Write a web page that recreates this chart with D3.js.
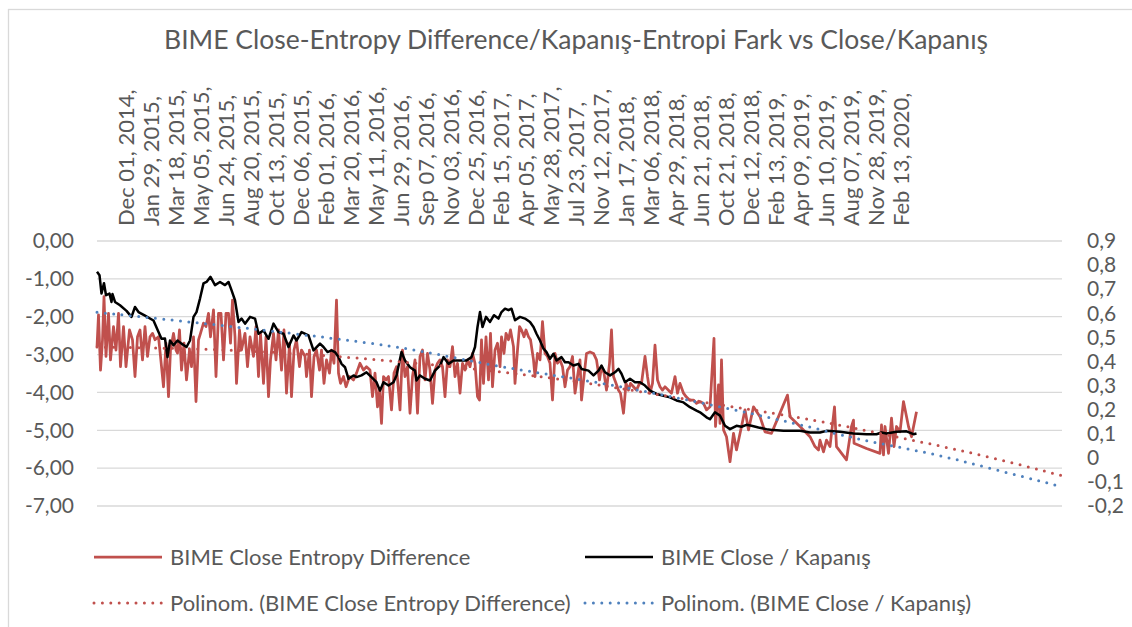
<!DOCTYPE html>
<html>
<head>
<meta charset="utf-8">
<script src="https://cdn.jsdelivr.net/npm/d3@7"></script>
<style>
  body { margin: 0; background: #fff; }
  svg text { font-family: Lato, "Noto Sans", sans-serif; fill: #595959; }
</style>
</head>
<body>
<svg id="chart" width="1132" height="627"></svg>
<script>
// category labels, shown every 50th point
var dateLabels = ["Dec 01, 2014,", "Jan 29, 2015,", "Mar 18, 2015,", "May 05, 2015,", "Jun 24, 2015,",
  "Aug 20, 2015,", "Oct 13, 2015,", "Dec 06, 2015,", "Feb 01, 2016,", "Mar 20, 2016,", "May 11, 2016,",
  "Jun 29, 2016,", "Sep 07, 2016,", "Nov 03, 2016,", "Dec 25, 2016,", "Feb 15, 2017,", "Apr 05, 2017,",
  "May 28, 2017,", "Jul 23, 2017,", "Nov 12, 2017,", "Jan 17, 2018,", "Mar 06, 2018,", "Apr 29, 2018,",
  "Jun 21, 2018,", "Oct 21, 2018,", "Dec 12, 2018,", "Feb 13, 2019,", "Apr 09, 2019,", "Jun 10, 2019,",
  "Aug 07, 2019,", "Nov 28, 2019,", "Feb 13, 2020,"];
var firstLabel = 57, labelStep = 50, lastCategory = 1930;

var leftTicks = [0, -1, -2, -3, -4, -5, -6, -7];
var rightTicks = [0.9, 0.8, 0.7, 0.6, 0.5, 0.4, 0.3, 0.2, 0.1, 0, -0.1, -0.2];

// BIME Close Entropy Difference (left axis)
var entropyIndex = [0, 3, 7, 11, 14, 18, 23, 27, 33, 38, 43, 47, 53, 58, 65, 71, 76, 81, 86, 91, 96, 101, 106, 111,
  116, 123, 127, 133, 138, 143, 147, 153, 158, 161, 165, 169, 174, 179, 185, 189, 193, 198, 203, 207, 213, 218,
  223, 227, 233, 238, 243, 248, 253, 258, 263, 267, 271, 276, 279, 285, 289, 296, 301, 306, 313, 318, 323, 327,
  333, 338, 343, 347, 353, 358, 363, 369, 374, 379, 385, 389, 394, 399, 405, 409, 416, 419, 425, 429, 434, 439,
  445, 449, 454, 459, 465, 469, 474, 479, 483, 487, 493, 498, 505, 513, 519, 526, 533, 539, 546, 551, 556, 561,
  565, 569, 573, 578, 583, 589, 594, 599, 606, 611, 616, 621, 626, 631, 636, 641, 646, 651, 656, 661, 666, 671,
  676, 681, 686, 691, 696, 701, 706, 711, 716, 721, 726, 731, 736, 741, 746, 751, 756, 761, 765, 769, 773, 778,
  783, 787, 791, 796, 801, 806, 809, 814, 818, 823, 827, 833, 836, 841, 845, 849, 854, 858, 863, 867, 873, 876,
  881, 886, 891, 896, 901, 906, 911, 916, 921, 926, 931, 936, 941, 946, 951, 956, 961, 966, 969, 974, 979, 986,
  993, 999, 1005, 1009, 1014, 1019, 1025, 1029, 1033, 1038, 1043, 1047, 1053, 1058, 1063, 1067, 1073, 1079, 1085,
  1089, 1096, 1101, 1106, 1111, 1116, 1121, 1126, 1131, 1136, 1143, 1149, 1156, 1161, 1166, 1173, 1178, 1185,
  1193, 1199, 1206, 1213, 1219, 1226, 1234, 1237, 1243, 1246, 1249, 1253, 1259, 1266, 1273, 1279, 1289, 1296,
  1303, 1313, 1326, 1336, 1349, 1363, 1381, 1386, 1406, 1426, 1436, 1443, 1446, 1453, 1459, 1466, 1475, 1479,
  1499, 1509, 1513, 1514, 1539, 1566, 1569, 1573, 1576, 1583, 1589, 1594, 1599, 1606, 1613, 1623, 1629, 1639];
var entropyValues = [-2.79, -1.95, -3.41, -2.61, -1.47, -3.05, -1.91, -3.14, -2.26, -2.88, -1.91, -3.32, -2.26,
  -3.32, -2.35, -2.61, -3.58, -2.53, -2.35, -3.14, -2.26, -3.05, -2.53, -2.44, -2.61, -2.53, -3.05, -3.85, -2.70,
  -4.11, -2.88, -2.44, -2.88, -2.96, -2.35, -3.41, -2.70, -3.67, -2.88, -3.32, -2.53, -4.24, -2.61, -2.44, -2.17,
  -2.26, -1.91, -2.53, -1.82, -3.58, -1.91, -1.91, -3.14, -1.91, -1.91, -2.70, -1.56, -2.53, -3.76, -2.35, -2.88,
  -2.44, -3.32, -2.53, -3.05, -2.26, -3.58, -2.44, -3.76, -2.53, -4.11, -3.14, -2.44, -3.14, -2.35, -3.41, -2.35,
  -4.02, -2.70, -4.11, -2.88, -2.61, -3.32, -2.88, -3.05, -3.58, -2.88, -4.11, -3.05, -2.88, -3.41, -2.88, -3.76,
  -3.14, -3.49, -2.88, -3.23, -1.56, -3.49, -3.76, -3.58, -3.85, -3.58, -3.67, -3.49, -3.23, -3.41, -3.32, -3.41,
  -4.11, -3.49, -4.38, -3.94, -4.82, -3.58, -3.67, -3.58, -4.46, -3.49, -3.32, -4.46, -2.88, -3.58, -3.32, -4.55,
  -3.58, -3.14, -4.55, -3.05, -2.88, -3.67, -2.97, -3.41, -4.29, -3.41, -3.23, -3.14, -3.32, -4.11, -3.14, -3.32,
  -2.79, -3.58, -3.23, -4.02, -3.23, -3.41, -3.14, -3.32, -2.97, -3.23, -4.11, -4.20, -2.61, -3.76, -2.53, -3.67,
  -2.44, -3.85, -2.88, -2.70, -3.32, -2.53, -2.97, -2.44, -2.61, -2.35, -2.79, -3.76, -2.88, -2.26, -2.35, -2.53,
  -2.35, -2.53, -2.61, -3.14, -3.58, -2.97, -3.14, -2.13, -2.97, -3.05, -3.23, -4.20, -2.97, -3.23, -3.14, -3.32,
  -3.85, -3.41, -3.32, -3.05, -4.02, -3.58, -3.14, -4.20, -3.58, -2.97, -2.93, -2.97, -3.14, -3.67, -3.32, -3.49,
  -3.94, -3.23, -2.35, -3.58, -3.76, -3.94, -4.02, -4.55, -3.76, -3.94, -3.76, -3.85, -3.94, -3.76, -3.76, -3.05,
  -3.58, -4.02, -3.76, -2.75, -3.67, -3.85, -3.94, -3.85, -3.94, -4.02, -3.58, -4.02, -3.76, -4.02, -4.11, -4.20,
  -4.20, -4.29, -4.24, -4.29, -4.46, -4.38, -2.57, -4.90, -3.80, -4.82, -3.14, -4.99, -5.17, -5.83, -5.08, -5.52,
  -4.90, -4.46, -4.99, -4.38, -4.64, -5.04, -5.08, -4.64, -4.07, -4.64, -4.90, -5.17, -5.43, -5.52, -5.26, -5.57,
  -5.26, -5.43, -4.38, -5.43, -5.78, -4.90, -4.73, -5.34, -5.48, -5.61, -4.86, -5.65, -4.90, -5.61, -4.68, -5.43,
  -4.90, -5.04, -4.24, -4.90, -5.17, -4.51];

// BIME Close / Kapanış (right axis)
var closeIndex = [0, 5, 9, 14, 18, 25, 29, 31, 36, 46, 59, 69, 76, 83, 96, 113, 123, 129, 136, 141, 146, 153, 161,
  169, 179, 186, 193, 199, 206, 213, 219, 227, 236, 246, 256, 263, 269, 276, 283, 289, 296, 306, 316, 323, 333,
  343, 353, 363, 373, 383, 393, 399, 409, 423, 433, 446, 453, 461, 469, 476, 483, 489, 496, 503, 513, 519, 529,
  539, 549, 559, 566, 573, 583, 593, 599, 609, 616, 626, 636, 639, 646, 656, 666, 676, 686, 693, 703, 713, 726,
  739, 749, 756, 761, 766, 771, 778, 786, 794, 803, 809, 816, 823, 829, 836, 846, 856, 866, 873, 879, 886, 893,
  899, 906, 913, 919, 929, 936, 943, 953, 963, 969, 983, 993, 1003, 1009, 1016, 1026, 1036, 1043, 1049, 1056,
  1066, 1076, 1086, 1096, 1106, 1119, 1133, 1146, 1159, 1173, 1186, 1199, 1206, 1219, 1226, 1236, 1246, 1256,
  1266, 1279, 1289, 1299, 1309, 1323, 1339, 1353, 1373, 1406, 1426, 1446, 1459, 1486, 1513, 1539, 1559, 1569,
  1579, 1599, 1619, 1633, 1639];
var closeValues = [0.772, 0.758, 0.682, 0.725, 0.675, 0.682, 0.647, 0.68, 0.647, 0.633, 0.61, 0.585, 0.626, 0.605,
  0.59, 0.57, 0.522, 0.494, 0.495, 0.418, 0.487, 0.467, 0.487, 0.474, 0.46, 0.487, 0.585, 0.605, 0.661, 0.724,
  0.73, 0.751, 0.717, 0.73, 0.717, 0.73, 0.696, 0.654, 0.564, 0.578, 0.557, 0.585, 0.578, 0.515, 0.529, 0.494,
  0.557, 0.522, 0.515, 0.46, 0.508, 0.487, 0.522, 0.508, 0.446, 0.474, 0.46, 0.439, 0.446, 0.439, 0.418, 0.39,
  0.376, 0.328, 0.342, 0.335, 0.342, 0.355, 0.335, 0.314, 0.279, 0.314, 0.3, 0.314, 0.342, 0.439, 0.404, 0.376,
  0.362, 0.321, 0.342, 0.328, 0.321, 0.362, 0.383, 0.418, 0.39, 0.404, 0.404, 0.404, 0.418, 0.46, 0.543, 0.605,
  0.543, 0.585, 0.564, 0.592, 0.578, 0.605, 0.619, 0.613, 0.619, 0.571, 0.585, 0.578, 0.564, 0.543, 0.515, 0.487,
  0.453, 0.439, 0.411, 0.432, 0.404, 0.418, 0.397, 0.397, 0.383, 0.39, 0.369, 0.362, 0.342, 0.362, 0.383, 0.355,
  0.342, 0.355, 0.369, 0.349, 0.314, 0.328, 0.314, 0.314, 0.3, 0.279, 0.265, 0.258, 0.251, 0.238, 0.23, 0.21,
  0.196, 0.189, 0.168, 0.16, 0.189, 0.175, 0.133, 0.119, 0.133, 0.129, 0.137, 0.133, 0.126, 0.119, 0.115, 0.112,
  0.112, 0.105, 0.105, 0.112, 0.108, 0.101, 0.098, 0.098, 0.105, 0.101, 0.108, 0.11, 0.098, 0.101];

// polynomial trendlines (forecast to the end of the axis)
var entropyTrendIndex = [0, 252, 520, 820, 986, 1206, 1406, 1532, 1660, 1786, 1930];
var entropyTrendValues = [-2.80, -2.85, -3.07, -3.46, -3.75, -4.25, -4.65, -4.99, -5.34, -5.70, -6.20];
var closeTrendIndex = [0, 252, 520, 646, 806, 1006, 1206, 1406, 1532, 1666, 1792, 1930];
var closeTrendValues = [0.604, 0.55, 0.485, 0.446, 0.376, 0.314, 0.23, 0.14, 0.07, 0.022, -0.047, -0.12];

(function() {
  var svg = d3.select("#chart");
  var plotLeft = 97, plotRight = 1062, plotTop = 241, plotBottom = 506;
  var red = "#C0504D", blue = "#4F81BD";
  var comma = function(f) { return function(v) { return d3.format(f)(v).replace(".", ",").replace("−", "-"); }; };

  var x = d3.scaleLinear().domain([0, lastCategory]).range([plotLeft, plotRight]);
  var yL = d3.scaleLinear().domain([-7, 0]).range([plotBottom, plotTop]);
  var yR = d3.scaleLinear().domain([-0.2, 0.9]).range([plotBottom, plotTop]);

  // chart frame
  svg.append("rect").attr("x", 8.5).attr("y", 9.5).attr("width", 1200).attr("height", 700)
    .attr("fill", "none").attr("stroke", "#d9d9d9").attr("stroke-width", 1.3);

  svg.append("text").attr("x", 576).attr("y", 49).attr("text-anchor", "middle")
    .style("font-size", "26.5px")
    .text("BIME Close-Entropy Difference/Kapanış-Entropi Fark vs Close/Kapanış");

  // gridlines
  svg.append("g").selectAll("line").data(leftTicks).enter().append("line")
    .attr("x1", plotLeft).attr("x2", plotRight)
    .attr("y1", function(d) { return yL(d); }).attr("y2", function(d) { return yL(d); })
    .attr("stroke", "#d9d9d9").attr("stroke-width", 1.3);

  // value axes
  var axisL = svg.append("g").attr("transform", "translate(" + (plotLeft - 23) + ",0)")
    .call(d3.axisLeft(yL).tickValues(leftTicks).tickSize(0).tickPadding(0).tickFormat(comma(".2f")));
  var axisR = svg.append("g").attr("transform", "translate(" + (plotRight + 25) + ",0)")
    .call(d3.axisRight(yR).tickValues(rightTicks).tickSize(0).tickPadding(0)
      .tickFormat(function(v) { return Math.abs(v) < 1e-9 ? "0" : comma(".1f")(v); }));
  [axisL, axisR].forEach(function(a) {
    a.select(".domain").remove();
    a.selectAll("text").attr("fill", "#595959").style("font-size", "21px").style("font-family", null);
  });

  // category axis, labels above the plot
  var tickIdx = dateLabels.map(function(d, i) { return firstLabel + i * labelStep; });
  var axisX = svg.append("g").attr("transform", "translate(0,226)")
    .call(d3.axisTop(x).tickValues(tickIdx).tickSize(0)
      .tickFormat(function(d, i) { return dateLabels[i]; }));
  axisX.select(".domain").remove();
  axisX.selectAll("text").attr("fill", "#595959").style("font-size", "22px").style("font-family", null)
    .attr("transform", "rotate(-90)").attr("text-anchor", "start")
    .attr("x", 0).attr("y", 0).attr("dy", "0.35em");

  // series
  function pts(idx, vals) { return idx.map(function(d, i) { return [d, vals[i]]; }); }
  var lineL = d3.line().x(function(d) { return x(d[0]); }).y(function(d) { return yL(d[1]); });
  var lineR = d3.line().x(function(d) { return x(d[0]); }).y(function(d) { return yR(d[1]); });

  svg.append("path").datum(pts(entropyIndex, entropyValues)).attr("d", lineL)
    .attr("fill", "none").attr("stroke", red).attr("stroke-width", 2.75).attr("stroke-linejoin", "round");
  svg.append("path").datum(pts(closeIndex, closeValues)).attr("d", lineR)
    .attr("fill", "none").attr("stroke", "#000").attr("stroke-width", 2.5).attr("stroke-linejoin", "round");

  svg.append("path").datum(pts(entropyTrendIndex, entropyTrendValues)).attr("d", lineL.curve(d3.curveBasis))
    .attr("fill", "none").attr("stroke", red).attr("stroke-width", 3)
    .attr("stroke-dasharray", "0 8.4").attr("stroke-linecap", "round");
  svg.append("path").datum(pts(closeTrendIndex, closeTrendValues)).attr("d", lineR.curve(d3.curveBasis))
    .attr("fill", "none").attr("stroke", blue).attr("stroke-width", 3)
    .attr("stroke-dasharray", "0 8.4").attr("stroke-linecap", "round");

  // legend
  var legendItems = [
    { name: "BIME Close Entropy Difference", color: red, dash: null, w: 2.75, lx: 94, ly: 557 },
    { name: "BIME Close / Kapanış", color: "#000", dash: null, w: 2.5, lx: 585, ly: 557 },
    { name: "Polinom. (BIME Close Entropy Difference)", color: red, dash: "0 8.4", w: 3, lx: 94, ly: 603 },
    { name: "Polinom. (BIME Close / Kapanış)", color: blue, dash: "0 8.4", w: 3, lx: 585, ly: 603 }
  ];
  var lg = svg.append("g").selectAll("g").data(legendItems).enter().append("g")
    .attr("transform", function(d) { return "translate(" + d.lx + "," + d.ly + ")"; });
  lg.append("line").attr("x1", 0).attr("x2", 68)
    .attr("stroke", function(d) { return d.color; }).attr("stroke-width", function(d) { return d.w; })
    .attr("stroke-dasharray", function(d) { return d.dash; })
    .attr("stroke-linecap", function(d) { return d.dash ? "round" : "butt"; });
  lg.append("text").attr("x", 76).attr("dy", "0.35em").style("font-size", "22px")
    .text(function(d) { return d.name; });
})();
</script>
</body>
</html>
